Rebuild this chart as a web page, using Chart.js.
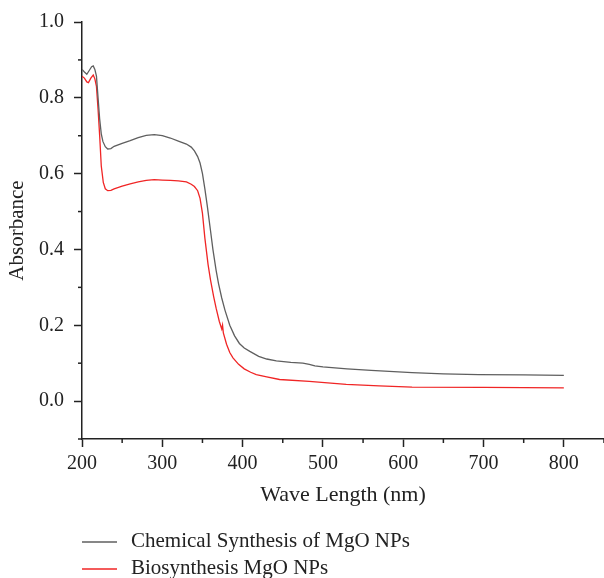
<!DOCTYPE html>
<html>
<head>
<meta charset="utf-8">
<script src="https://cdn.jsdelivr.net/npm/chart.js@4"></script>
<style>
  html, body { margin: 0; padding: 0; background: #fff; }
  #wrap { width: 604px; height: 578px; position: relative; }
</style>
</head>
<body>
<div id="wrap"><canvas id="uvChart"></canvas></div>
<script>
// wavelengths (nm) and absorbance
const chemWave = [200, 203, 206, 209, 212, 214, 216, 218, 220, 222, 224, 226, 229, 232, 236, 240, 250, 260, 270, 280, 290, 300, 310, 320, 330, 336, 340, 344, 347, 350, 353, 356, 360, 363, 367, 370, 374, 378, 384, 390, 396, 402, 409, 420, 430, 442, 460, 475, 483, 490, 500, 530, 560, 611, 650, 694, 750, 800];
const chemAbs = [0.875, 0.868, 0.862, 0.872, 0.882, 0.884, 0.875, 0.857, 0.80, 0.744, 0.705, 0.685, 0.671, 0.665, 0.666, 0.672, 0.680, 0.687, 0.695, 0.701, 0.703, 0.700, 0.694, 0.686, 0.678, 0.670, 0.660, 0.645, 0.628, 0.600, 0.560, 0.515, 0.450, 0.400, 0.345, 0.310, 0.272, 0.240, 0.200, 0.172, 0.152, 0.140, 0.131, 0.118, 0.111, 0.106, 0.102, 0.100, 0.097, 0.093, 0.090, 0.085, 0.081, 0.075, 0.072, 0.070, 0.069, 0.068];

const bioWave = [200, 203, 206, 208, 211, 214, 216, 218, 220, 222, 224, 226.5, 229, 232, 236, 240, 250, 260, 270, 280, 290, 300, 310, 320, 330, 336, 340, 344, 347, 350, 353, 357, 360, 364, 367, 371, 374, 375, 376, 380, 384, 388, 395, 402, 410, 417, 430, 446, 483, 529, 570, 611, 700, 800];
const bioAbs = [0.857, 0.852, 0.842, 0.840, 0.852, 0.860, 0.850, 0.830, 0.770, 0.700, 0.620, 0.577, 0.560, 0.555, 0.556, 0.560, 0.567, 0.573, 0.578, 0.582, 0.584, 0.583, 0.582, 0.581, 0.578, 0.572, 0.566, 0.555, 0.535, 0.495, 0.430, 0.360, 0.320, 0.275, 0.245, 0.210, 0.190, 0.200, 0.180, 0.150, 0.128, 0.114, 0.097, 0.085, 0.076, 0.070, 0.064, 0.057, 0.052, 0.044, 0.040, 0.037, 0.036, 0.035];

const seriesNames = ['Chemical Synthesis of MgO NPs', 'Biosynthesis MgO NPs'];
const seriesColors = ['#5f5f5f', '#f02525'];

const axisColor = '#222';
const serif = "'Liberation Serif', 'DejaVu Serif', serif";

const toPoints = (xs, ys) => xs.map((x, i) => ({ x, y: ys[i] }));

// x major every 100, y major every 0.2
const isMajorX = v => Math.round(v) % 100 === 0;
const isMajorY = v => Math.round(v * 10) % 2 === 0 && v >= -0.001;

// short minor tick marks + legend under the plot
const extrasPlugin = {
  id: 'extras',
  afterDraw(chart) {
    const { ctx, chartArea, scales } = chart;
    ctx.save();
    ctx.strokeStyle = axisColor;
    ctx.lineWidth = 1.5;
    scales.x.ticks.forEach(t => {
      if (isMajorX(t.value)) return;
      const px = scales.x.getPixelForValue(t.value);
      ctx.beginPath();
      ctx.moveTo(px, chartArea.bottom);
      ctx.lineTo(px, chartArea.bottom + 4);
      ctx.stroke();
    });
    scales.y.ticks.forEach(t => {
      if (isMajorY(t.value)) return;
      const py = scales.y.getPixelForValue(t.value);
      ctx.beginPath();
      ctx.moveTo(chartArea.left, py);
      ctx.lineTo(chartArea.left - 4, py);
      ctx.stroke();
    });

    // legend
    ctx.font = '21px ' + serif;
    ctx.textBaseline = 'middle';
    ctx.fillStyle = axisColor;
    const rows = [542, 569];
    seriesNames.forEach((name, i) => {
      ctx.strokeStyle = seriesColors[i];
      ctx.lineWidth = 1.3;
      ctx.beginPath();
      ctx.moveTo(82, rows[i]);
      ctx.lineTo(117, rows[i]);
      ctx.stroke();
      ctx.fillText(name, 131, rows[i] - 1);
    });
    ctx.restore();
  }
};

new Chart(document.getElementById('uvChart'), {
  type: 'line',
  data: {
    datasets: [
      {
        label: seriesNames[0],
        data: toPoints(chemWave, chemAbs),
        borderColor: seriesColors[0],
        borderWidth: 1.3,
        pointRadius: 0,
        tension: 0,
      },
      {
        label: seriesNames[1],
        data: toPoints(bioWave, bioAbs),
        borderColor: seriesColors[1],
        borderWidth: 1.3,
        pointRadius: 0,
        tension: 0,
      },
    ],
  },
  options: {
    responsive: true,
    maintainAspectRatio: false,
    animation: false,
    events: [],
    layout: { padding: { top: 18, right: 0, bottom: 70, left: 0 } },
    plugins: {
      legend: { display: false },
      tooltip: { enabled: false },
    },
    scales: {
      x: {
        type: 'linear',
        min: 200,
        max: 850,
        afterFit: scale => {
          scale.height = 69;
          scale.paddingRight = 0;
        },
        ticks: {
          stepSize: 50,
          padding: 5,
          maxRotation: 0,
          autoSkip: false,
          color: axisColor,
          font: { family: serif, size: 20 },
          callback: v => (isMajorX(v) && v <= 800 ? String(v) : ''),
        },
        grid: {
          drawOnChartArea: false,
          drawTicks: true,
          tickLength: 8,
          tickWidth: 1.5,
          tickColor: c => (isMajorX(c.tick.value) ? axisColor : 'rgba(0,0,0,0)'),
        },
        border: { display: true, color: axisColor, width: 1.5 },
        title: {
          display: true,
          text: 'Wave Length (nm)',
          color: axisColor,
          font: { family: serif, size: 22 },
          padding: { top: 4, bottom: 0 },
        },
      },
      y: {
        min: -0.1,
        max: 1.0,
        afterFit: scale => { scale.width = 82; },
        ticks: {
          stepSize: 0.1,
          padding: 10,
          autoSkip: false,
          color: axisColor,
          font: { family: serif, size: 20 },
          callback: v => (isMajorY(v) ? v.toFixed(1) : ''),
        },
        grid: {
          drawOnChartArea: false,
          drawTicks: true,
          tickLength: 8,
          tickWidth: 1.5,
          tickColor: c => (isMajorY(c.tick.value) ? axisColor : 'rgba(0,0,0,0)'),
        },
        border: { display: true, color: axisColor, width: 1.5 },
        title: {
          display: true,
          text: 'Absorbance',
          color: axisColor,
          font: { family: serif, size: 21 },
          padding: { top: 5, bottom: 0 },
        },
      },
    },
  },
  plugins: [extrasPlugin],
});
</script>
</body>
</html>
